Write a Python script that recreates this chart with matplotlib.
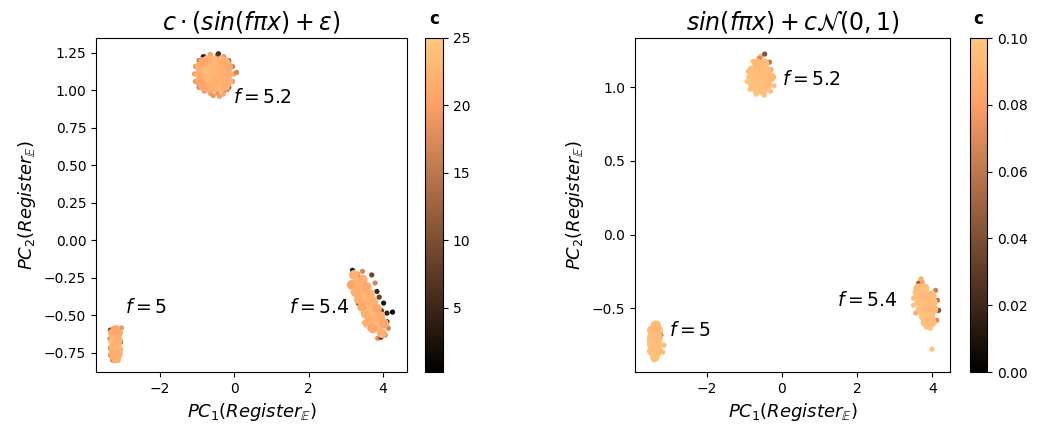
import matplotlib
matplotlib.use("Agg")
import matplotlib.pyplot as plt
import numpy as np

# ---------------- data: left panel  c*(sin(f*pi*x)+eps) ----------------
# cluster f=5.2 (core / edge)
L52_core_x = [-0.55, -0.36, -0.74, -0.17, -0.93, -0.55, -0.55, -0.55, -0.55, -0.36, -0.74, -0.36, -0.74,
              -0.36, -0.74, -0.36, -0.74, -0.17, -0.93, -0.17, -0.93, -0.25, -0.85, -0.25, -0.85]
L52_core_y = [1.11, 1.11, 1.11, 1.11, 1.11, 1.16, 1.06, 1.20, 1.02, 1.16, 1.16, 1.06, 1.06,
              1.20, 1.20, 1.02, 1.02, 1.16, 1.16, 1.06, 1.06, 1.19, 1.19, 1.03, 1.03]
L52_core_c = [23, 22, 23, 22, 22, 23, 22, 23, 22, 22, 23, 22, 23,
              22, 22, 23, 22, 21, 22, 22, 21, 22, 21, 22, 21]
L52_edge_x = [-0.01, -0.05, -0.15, -0.29, -0.45, -0.65, -0.81, -0.95, -1.05, -1.08, -1.05, -0.95, -0.81,
              -0.65, -0.45, -0.29, -0.15, -0.05, -0.95, -0.84, -0.43, -0.57, -0.19, 0.06, -0.40, -0.30]
L52_edge_y = [1.11, 1.16, 1.20, 1.225, 1.24, 1.24, 1.225, 1.20, 1.16, 1.11, 1.06, 1.02, 0.995,
              0.98, 0.98, 0.995, 1.02, 1.06, 1.045, 1.225, 1.245, 0.965, 1.005, 1.12, 0.96, 0.975]
L52_edge_c = [20, 16, 14, 19, 12, 20, 17, 15, 19, 20, 18, 17, 19,
              20, 19, 18, 13, 19, 0.5, 4, 6, 19, 18, 17, 20, 21]

# cluster f=5.4
L54_core_x = [3.22, 3.31, 3.41, 3.50, 3.59, 3.69, 3.78, 3.88, 3.97,
              3.46, 3.56, 3.65, 3.74, 3.84, 3.93, 4.03,
              3.16, 3.26, 3.35, 3.44, 3.54, 3.63, 3.73]
L54_core_y = [-0.232, -0.281, -0.330, -0.378, -0.427, -0.475, -0.524, -0.572, -0.621,
              -0.264, -0.313, -0.361, -0.410, -0.458, -0.507, -0.555,
              -0.298, -0.347, -0.395, -0.444, -0.492, -0.541, -0.589]
L54_core_c = [22, 23, 22, 23, 22, 23, 22, 23, 22,
              22, 21, 22, 22, 21, 22, 21,
              21, 22, 22, 21, 22, 22, 21]
L54_edge_x = [3.18, 3.45, 3.32, 3.18, 3.70, 3.20, 3.26, 3.79, 3.84, 3.34, 4.02, 3.48, 4.11,
              4.26, 3.50, 3.66, 4.11, 4.15, 3.86, 3.95, 4.06, 3.54, 3.90, 3.96, 3.33, 3.43]
L54_edge_y = [-0.201, -0.208, -0.225, -0.237, -0.232, -0.309, -0.353, -0.286, -0.342, -0.420, -0.420,
              -0.487, -0.487, -0.480, -0.550, -0.588, -0.544, -0.588, -0.655, -0.648, -0.633, -0.566,
              -0.380, -0.470, -0.250, -0.455]
L54_edge_c = [3, 17, 20, 21, 9, 4, 10, 17, 5, 6, 3, 10, 4,
              0.5, 22, 5, 4, 17, 18, 6, 16, 22, 8, 7, 15, 12]

# cluster f=5
L50_core_x = [-3.27, -3.14, -3.27, -3.14, -3.27, -3.14, -3.27, -3.14, -3.20, -3.20]
L50_core_y = [-0.62, -0.62, -0.67, -0.67, -0.72, -0.72, -0.76, -0.76, -0.60, -0.79]
L50_core_c = [22, 22, 23, 22, 22, 23, 22, 22, 21, 22]
L50_edge_x = [-3.34, -3.35, -3.34, -3.33, -3.08, -3.07, -3.08, -3.10, -3.04, -3.25, -3.15, -3.28, -3.13]
L50_edge_y = [-0.60, -0.66, -0.72, -0.77, -0.62, -0.68, -0.73, -0.77, -0.586, -0.59, -0.59, -0.80, -0.80]
L50_edge_c = [9, 12, 8, 11, 13, 9, 12, 10, 19, 16, 18, 13, 19]

# ---------------- data: right panel  sin(f*pi*x) + c*N(0,1) ----------------
R52_core_x = [-0.66, -0.47, -0.79, -0.61, -0.42, -0.82, -0.63, -0.45, -0.29, -0.77, -0.58, -0.39, -0.66, -0.50]
R52_core_y = [1.162, 1.162, 1.115, 1.115, 1.115, 1.068, 1.068, 1.068, 1.068, 1.020, 1.020, 1.020, 0.980, 0.980]
R52_core_c = [0.092, 0.094, 0.096, 0.093, 0.095, 0.097, 0.094, 0.093, 0.092, 0.096, 0.095, 0.094, 0.097, 0.096]
R52_edge_x = [-0.90, -0.93, -0.85, -0.69, -0.47, -0.31, -0.21, -0.23, -0.29, -0.77, -0.55, -0.46, -0.33, -0.60]
R52_edge_y = [1.108, 1.040, 0.986, 0.953, 0.946, 0.973, 1.010, 1.068, 1.120, 1.176, 1.210, 1.225, 1.170, 1.198]
R52_edge_c = [0.098, 0.099, 0.097, 0.098, 0.099, 0.096, 0.097, 0.090, 0.085, 0.094, 0.090, 0.042, 0.060, 0.070]

R54_core_x = [3.63, 3.79, 3.63, 3.82, 3.98, 3.66, 3.85, 4.01, 3.69, 3.87, 4.03, 3.77, 3.95, 3.82, 3.98]
R54_core_y = [-0.365, -0.365, -0.412, -0.412, -0.412, -0.459, -0.459, -0.459, -0.507, -0.507, -0.507,
              -0.554, -0.554, -0.595, -0.595]
R54_core_c = [0.093, 0.095, 0.096, 0.094, 0.092, 0.097, 0.095, 0.093, 0.096, 0.094, 0.092, 0.097, 0.095,
              0.096, 0.094]
R54_edge_x = [3.64, 3.73, 4.09, 4.14, 4.17, 4.12, 3.95, 3.85, 3.50, 3.50, 3.54, 3.56, 3.99, 3.70]
R54_edge_y = [-0.329, -0.322, -0.378, -0.446, -0.514, -0.581, -0.635, -0.628, -0.432, -0.480, -0.392,
              -0.532, -0.777, -0.300]
R54_edge_c = [0.045, 0.080, 0.065, 0.060, 0.040, 0.070, 0.098, 0.097, 0.096, 0.097, 0.095, 0.085, 0.098,
              0.088]

R50_core_x = [-3.46, -3.30, -3.46, -3.30, -3.46, -3.30, -3.46, -3.30, -3.38, -3.35]
R50_core_y = [-0.649, -0.649, -0.696, -0.696, -0.743, -0.743, -0.790, -0.790, -0.830, -0.615]
R50_core_c = [0.094, 0.092, 0.096, 0.093, 0.097, 0.095, 0.096, 0.094, 0.097, 0.093]
R50_edge_x = [-3.53, -3.50, -3.14, -3.17, -3.26, -3.22, -3.42, -3.40]
R50_edge_y = [-0.716, -0.784, -0.750, -0.797, -0.637, -0.682, -0.610, -0.850]
R50_edge_c = [0.098, 0.097, 0.096, 0.097, 0.050, 0.060, 0.090, 0.098]

# labels
left_labels = [("$f = 5.2$", -0.03, 0.95), ("$f = 5$", -2.95, -0.45), ("$f = 5.4$", 1.46, -0.45)]
right_labels = [("$f = 5.2$", 0.0, 1.054), ("$f = 5$", -3.0, -0.65), ("$f = 5.4$", 1.47, -0.446)]

left_xticks = [-2, 0, 2, 4]
left_yticks = [-0.75, -0.50, -0.25, 0.00, 0.25, 0.50, 0.75, 1.00, 1.25]
right_xticks = [-2, 0, 2, 4]
right_yticks = [-0.5, 0.0, 0.5, 1.0]
left_cticks = [5, 10, 15, 20, 25]
right_cticks = [0.00, 0.02, 0.04, 0.06, 0.08, 0.10]

# ---------------- figure ----------------
W, H = 1038, 428
fig = plt.figure(figsize=(W / 100, H / 100), dpi=100)

def rect(x0, y0, x1, y1):
    return [x0 / W, 1 - y1 / H, (x1 - x0) / W, (y1 - y0) / H]

axL = fig.add_axes(rect(96, 38, 407, 372))
caxL = fig.add_axes(rect(425, 38, 443, 372))
axR = fig.add_axes(rect(635, 38, 950, 372))
caxR = fig.add_axes(rect(970, 38, 987, 372))

cmap = "copper"
S_EDGE, S_CORE = 14, 50

def draw(ax, clusters, vmin, vmax):
    sc = None
    for (ex, ey, ec, cx, cy, cc) in clusters:
        sc = ax.scatter(ex, ey, c=ec, s=S_EDGE, cmap=cmap, vmin=vmin, vmax=vmax, linewidths=0)
        ax.scatter(cx, cy, c=cc, s=S_CORE, cmap=cmap, vmin=vmin, vmax=vmax, linewidths=0)
    return sc

scL = draw(axL, [(L52_edge_x, L52_edge_y, L52_edge_c, L52_core_x, L52_core_y, L52_core_c),
                 (L54_edge_x, L54_edge_y, L54_edge_c, L54_core_x, L54_core_y, L54_core_c),
                 (L50_edge_x, L50_edge_y, L50_edge_c, L50_core_x, L50_core_y, L50_core_c)], 0.25, 25)
scR = draw(axR, [(R52_edge_x, R52_edge_y, R52_edge_c, R52_core_x, R52_core_y, R52_core_c),
                 (R54_edge_x, R54_edge_y, R54_edge_c, R54_core_x, R54_core_y, R54_core_c),
                 (R50_edge_x, R50_edge_y, R50_edge_c, R50_core_x, R50_core_y, R50_core_c)], 0.0, 0.10)

axL.set_xlim(-3.73, 4.65)
axL.set_ylim(-0.88, 1.35)
axR.set_xlim(-3.91, 4.47)
axR.set_ylim(-0.932, 1.334)

axL.set_xticks(left_xticks)
axL.set_yticks(left_yticks)
axL.set_yticklabels([f"{v:.2f}".replace("-", "\u2212") for v in left_yticks])
axR.set_xticks(right_xticks)
axR.set_yticks(right_yticks)

for ax in (axL, axR):
    ax.tick_params(labelsize=10)
    ax.set_xlabel(r"$PC_1(Register_{\mathbb{E}})$", fontsize=13)
    ax.set_ylabel(r"$PC_2(Register_{\mathbb{E}})$", fontsize=13)

axL.set_title(r"$c\cdot(sin(f\pi x)+\varepsilon)$", fontsize=17)
axR.set_title(r"$sin(f\pi x)+c\mathcal{N}(0,1)$", fontsize=17)

for (t, x, y) in left_labels:
    axL.text(x, y, t, fontsize=13.5, va="center", ha="left")
for (t, x, y) in right_labels:
    axR.text(x, y, t, fontsize=13.5, va="center", ha="left")

cbL = fig.colorbar(scL, cax=caxL, ticks=left_cticks)
cbR = fig.colorbar(scR, cax=caxR, ticks=right_cticks)
cbR.ax.set_yticklabels([f"{v:.2f}" for v in right_cticks])
for cb in (cbL, cbR):
    cb.ax.tick_params(labelsize=10)
    cb.ax.set_title("c", fontweight="bold", fontsize=12, pad=10)
    cb.outline.set_linewidth(0.8)

fig.savefig("out.png", dpi=100)
